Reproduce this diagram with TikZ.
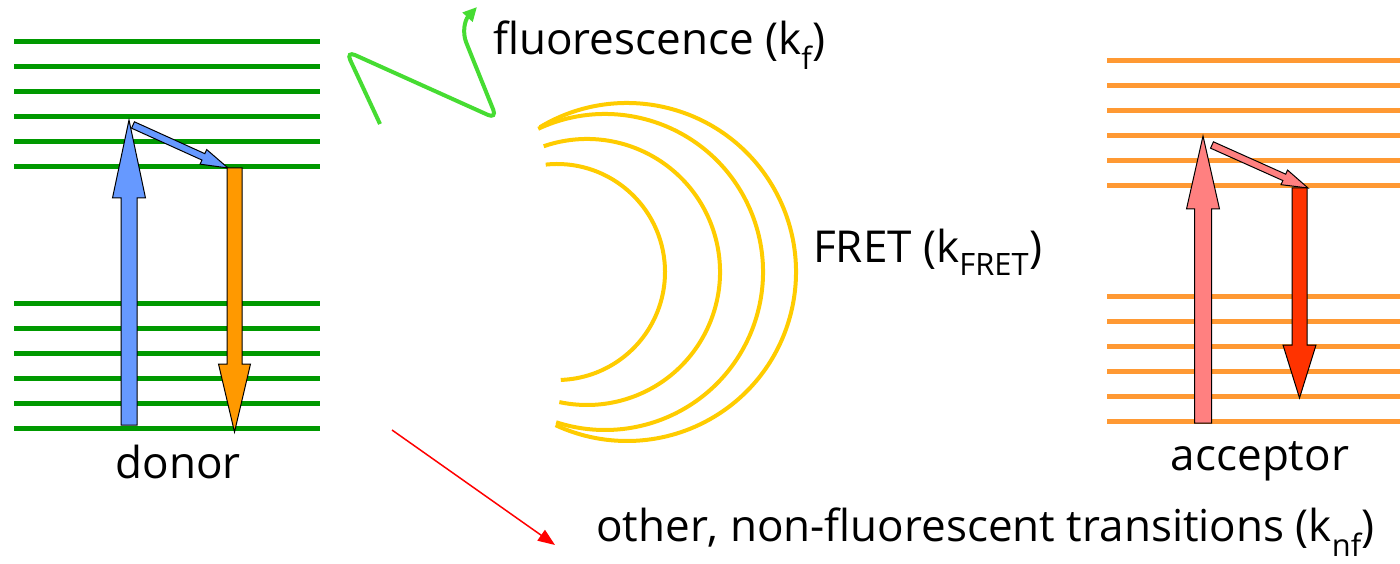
\documentclass[tikz,border=0pt]{standalone}
\usepackage{fontspec}
\setmainfont{Open Sans}
\usetikzlibrary{arrows.meta,calc}
\definecolor{dgreen}{RGB}{0,153,0}
\definecolor{aorange}{RGB}{255,153,51}
\definecolor{exblue}{RGB}{102,153,255}
\definecolor{emorange}{RGB}{255,153,0}
\definecolor{expink}{RGB}{255,128,128}
\definecolor{emred}{RGB}{255,51,0}
\definecolor{fretyel}{RGB}{255,204,0}
\definecolor{fluogreen}{RGB}{70,220,50}
\tikzset{
  dlevel/.style={draw=dgreen,line width=5pt},
  alevel/.style={draw=aorange,line width=5pt},
  % block arrow: shaft half width, head half width, head length
  fat/.style n args={3}{draw=black,line width=1pt,line join=miter,
    to path={($(\tikztostart)!#1!90:(\tikztotarget)$)
      -- ($(\tikztotarget)!#3!(\tikztostart)!#1!-90:(\tikztostart)$)
      -- ($(\tikztotarget)!#3!(\tikztostart)!#2!-90:(\tikztostart)$)
      -- (\tikztotarget)
      -- ($(\tikztotarget)!#3!(\tikztostart)!#2!90:(\tikztostart)$)
      -- ($(\tikztotarget)!#3!(\tikztostart)!#1!90:(\tikztostart)$)
      -- ($(\tikztostart)!#1!-90:(\tikztotarget)$) -- cycle}},
  fretarc/.style={draw=fretyel,line width=4pt},
  fluor/.style={draw=fluogreen,line width=4pt,rounded corners=10pt,
    -{Triangle[length=14pt,width=13pt]}},
  nfarr/.style={draw=red,line width=1.5pt,-{Triangle[length=17pt,width=13pt]}},
  lbl/.style={font=\fontsize{44}{52}\selectfont,inner sep=0pt},
}
\begin{document}
\begin{tikzpicture}[x=1pt,y=-1pt]
  \useasboundingbox (0,0) rectangle (1400,564);
  % energy levels
  \foreach \y in {42,67,...,167,303,328,...,428}
    \draw[dlevel] (14,\y) -- (320,\y);
  \foreach \y in {61,86,...,186,296,321,...,421}
    \draw[alevel] (1107,\y) -- (1400,\y);

  % donor transitions
  \coordinate (dup-s) at (129,425);
  \coordinate (dup-e) at (129,120);
  \coordinate (dhop-s) at (133,125);
  \coordinate (dhop-e) at (228,168);
  \coordinate (ddn-s) at (234.5,168);
  \coordinate (ddn-e) at (234.5,432);
  \draw[fat={8pt}{16.5pt}{78pt},fill=exblue] (dup-s) to (dup-e);
  \draw[fat={3.5pt}{8pt}{27pt},fill=exblue] (dhop-s) to (dhop-e);
  \draw[fat={7.5pt}{16pt}{68pt},fill=emorange] (ddn-s) to (ddn-e);

  % acceptor transitions
  \coordinate (aup-s) at (1203,423);
  \coordinate (aup-e) at (1203,136);
  \coordinate (ahop-s) at (1212,145);
  \coordinate (ahop-e) at (1308,188);
  \coordinate (adn-s) at (1299.5,188);
  \coordinate (adn-e) at (1299.5,398);
  \draw[fat={8.5pt}{16.5pt}{73pt},fill=expink] (aup-s) to (aup-e);
  \draw[fat={3.5pt}{8pt}{26pt},fill=expink] (ahop-s) to (ahop-e);
  \draw[fat={7.5pt}{16.5pt}{53pt},fill=emred] (adn-s) to (adn-e);

  % FRET waves
  \foreach \cx/\r/\a/\b in {557/108/-96/88,587/133/-109/102,605/158/-115/108,627/169/-121/115}
    \draw[fretarc] ([shift={(\a:\r)}]\cx,272) arc[start angle=\a,end angle=\b,radius=\r];

  % fluorescence
  \coordinate (w0) at (380,124);
  \coordinate (wtip) at (477,7);
  \draw[fluor] (w0) -- (346,51) -- (497,119) -- (470,52)
    .. controls (462,32) and (465,20) .. (wtip);

  % non-fluorescent
  \coordinate (nf-s) at (392,430);
  \coordinate (nf-e) at (555,545);
  \draw[nfarr] (nf-s) -- (nf-e);

  % labels
  \node[lbl,anchor=base] (donor) at (178,478) {donor};
  \node[lbl,anchor=base] (acceptor) at (1260,470) {acceptor};
  \node[lbl,anchor=base west] (fluo) at (493,55) {fluorescence (k\textsubscript{f})};
  \node[lbl,anchor=base west] (fret) at (813,262) {FRET (k\textsubscript{FRET})};
  \node[lbl,anchor=base west] (nonfl) at (596,541) {other, non-fluorescent transitions (k\textsubscript{nf})};
\end{tikzpicture}
\end{document}
